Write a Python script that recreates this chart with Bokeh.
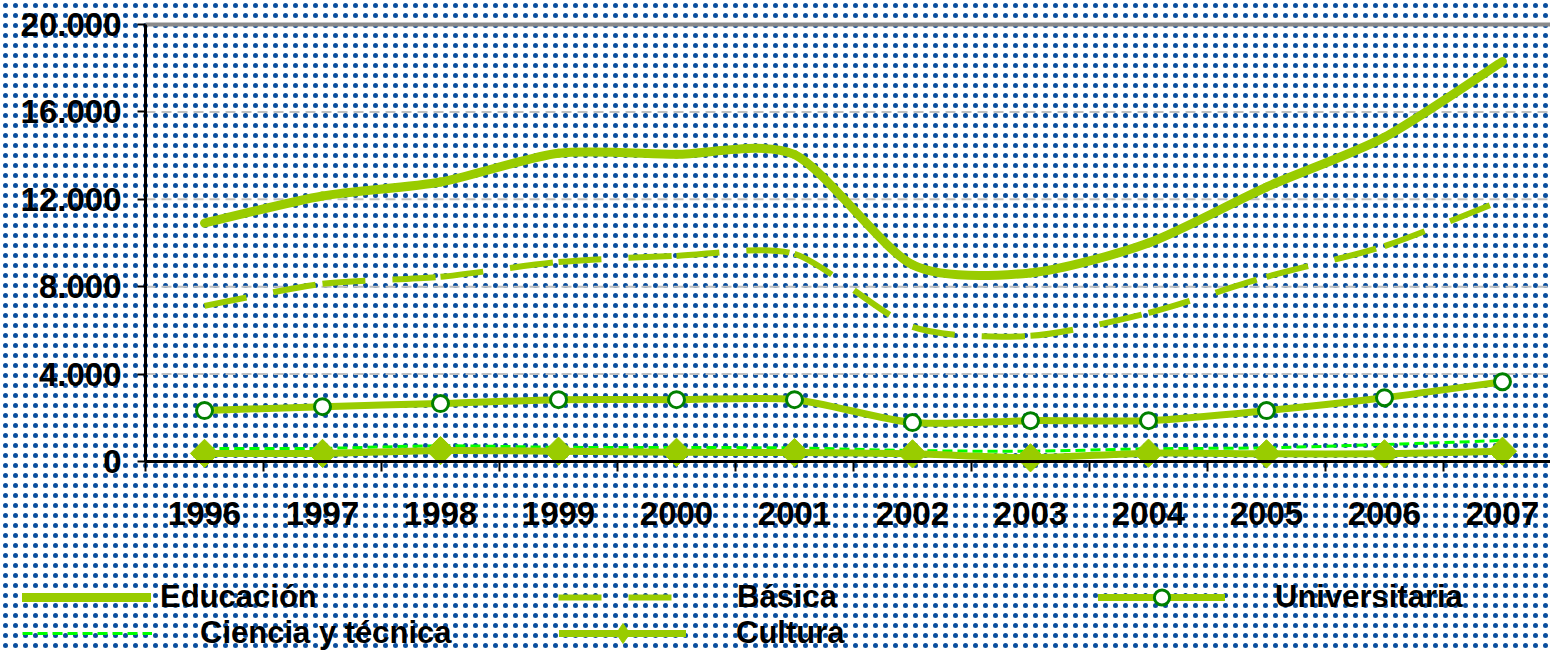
from bokeh.plotting import figure
from bokeh.models import (FixedTicker, Legend, LegendItem, BoxAnnotation,
                          Range1d, ColumnDataSource, LinearAxis)
from bokeh.embed import file_html
from bokeh.resources import INLINE

# ---------------- data ----------------
years = ["1996", "1997", "1998", "1999", "2000", "2001",
         "2002", "2003", "2004", "2005", "2006", "2007"]
educacion = [10910, 12150, 12790, 14110, 14060, 14050, 9000, 8630, 10000, 12560, 14840, 18310]
basica = [7120, 8130, 8450, 9130, 9410, 9500, 6160, 5750, 6800, 8450, 9860, 11960]
universitaria = [2330, 2510, 2650, 2830, 2830, 2830, 1780, 1870, 1870, 2330, 2920, 3650]
ciencia = [590, 600, 720, 650, 640, 620, 500, 470, 580, 625, 780, 960]
cultura = [370, 370, 500, 470, 420, 410, 350, 170, 380, 350, 350, 470]
y_ticks = [0, 4000, 8000, 12000, 16000, 20000]
y_tick_labels = ["0", "4.000", "8.000", "12.000", "16.000", "20.000"]

GREEN = "#99cc00"
FONT = "Liberation Sans"
DOT = "#0b4f9e"

xs = list(range(len(years)))

# view: whole canvas is the frame; axes are pinned inside it
X_START, X_END = -1.729, 11.407
Y_START, Y_END = -8696, 21098


def smooth_source(x, y, k=8.0):
    """Bezier segments (smoothed line) through the data points."""
    n = len(x)
    d = dict(x0=[], y0=[], x1=[], y1=[], cx0=[], cy0=[], cx1=[], cy1=[])
    for i in range(n - 1):
        a = max(i - 1, 0)
        b = min(i + 2, n - 1)
        d["x0"].append(x[i]); d["y0"].append(y[i])
        d["x1"].append(x[i + 1]); d["y1"].append(y[i + 1])
        d["cx0"].append(x[i] + (x[i + 1] - x[a]) / k)
        d["cy0"].append(y[i] + (y[i + 1] - y[a]) / k)
        d["cx1"].append(x[i + 1] - (x[b] - x[i]) / k)
        d["cy1"].append(y[i + 1] - (y[b] - y[i]) / k)
    return ColumnDataSource(d)


p = figure(width=1550, height=651, output_backend="svg", toolbar_location=None,
           x_range=Range1d(X_START, X_END), y_range=Range1d(Y_START, Y_END),
           x_axis_location=None, y_axis_location=None,
           min_border=0, background_fill_color="white",
           border_fill_color="white", outline_line_color=None)
p.xgrid.grid_line_color = None
p.ygrid.grid_line_color = None

# dotted background
bg = BoxAnnotation(left=-5000, right=5000, top=-5000, bottom=5000,
                   left_units="screen", right_units="screen",
                   top_units="screen", bottom_units="screen",
                   fill_alpha=0, line_color=None, hatch_pattern=".",
                   hatch_color=DOT, hatch_scale=10, hatch_weight=1.5,
                   level="image")
p.add_layout(bg)

# gridlines (dashed) and the solid top line
p.segment(x0=-0.5, x1=X_END, y0=y_ticks[1:-1], y1=y_ticks[1:-1],
          line_color="#c0c0c0", line_width=2, line_dash="10 6", level="underlay")
p.segment(x0=[-0.5], x1=[X_END], y0=[y_ticks[-1]], y1=[y_ticks[-1]],
          line_color="#8a8a8a", line_width=4, level="underlay")

# axes pinned inside the frame
xaxis = LinearAxis(fixed_location=0, bounds=(-0.5, X_END))
xaxis.ticker = FixedTicker(ticks=xs, minor_ticks=[i - 0.5 for i in range(13)])
xaxis.major_label_overrides = {i: y for i, y in enumerate(years)}
xaxis.major_tick_line_color = None
xaxis.major_tick_out = 0
xaxis.major_tick_in = 0
xaxis.minor_tick_line_color = "black"
xaxis.minor_tick_line_width = 2
xaxis.minor_tick_out = 10
xaxis.minor_tick_in = 0
xaxis.axis_line_width = 3
xaxis.axis_line_color = "black"
xaxis.major_label_standoff = 31

yaxis = LinearAxis(fixed_location=-0.5, bounds=(0, 20000))
yaxis.ticker = FixedTicker(ticks=y_ticks)
yaxis.major_label_overrides = {v: s for v, s in zip(y_ticks, y_tick_labels)}
yaxis.major_tick_out = 8
yaxis.major_tick_in = 0
yaxis.major_tick_line_width = 2
yaxis.major_tick_line_color = "black"
yaxis.minor_tick_line_color = None
yaxis.axis_line_width = 3
yaxis.axis_line_color = "black"
yaxis.major_label_standoff = 16

for ax in (xaxis, yaxis):
    ax.major_label_text_font = FONT
    ax.major_label_text_font_style = "bold"
    ax.major_label_text_font_size = "33px"
    ax.major_label_text_color = "black"
p.add_layout(xaxis, "below")
p.add_layout(yaxis, "left")

# series
bz = dict(x0="x0", y0="y0", x1="x1", y1="y1", cx0="cx0", cy0="cy0",
          cx1="cx1", cy1="cy1")
r_edu = p.bezier(source=smooth_source(xs, educacion), line_color=GREEN,
                 line_width=9, line_cap="round", **bz)
r_bas = p.bezier(source=smooth_source(xs, basica), line_color=GREEN,
                 line_width=6, line_dash="43 27", **bz)
r_uni = p.bezier(source=smooth_source(xs, universitaria), line_color=GREEN,
                 line_width=7, line_cap="round", **bz)
r_cie = p.bezier(source=smooth_source(xs, ciencia), line_color="#00ff00",
                 line_width=3, line_dash="10 5", **bz)
r_cul = p.bezier(source=smooth_source(xs, cultura), line_color=GREEN,
                 line_width=7, line_cap="round", **bz)
m_uni = p.scatter(xs, universitaria, marker="circle", size=16,
                  fill_color="white", line_color="#008000", line_width=3)
m_cul = p.scatter(xs, cultura, marker="square", size=20, angle=0.785398,
                  fill_color=GREEN, line_color=GREEN, line_width=1)
# legend-only marker for the Cultura entry (diamond shape, not drawn in plot)
nan = float("nan")
k_cul = p.scatter(x=[nan], y=[nan], marker="diamond", size=20,
                  fill_color=GREEN, line_color=GREEN, line_width=1)


def add_legend(label, renderers, vx, vy, gw, gh, standoff):
    lg = Legend(items=[LegendItem(label=label, renderers=renderers)],
                location=(vx, vy), glyph_width=gw, glyph_height=gh,
                label_height=gh, label_standoff=standoff, padding=0, margin=0,
                spacing=0, border_line_color=None, background_fill_alpha=0,
                label_text_font=FONT, label_text_font_style="bold",
                label_text_font_size="31px", label_text_color="black")
    p.add_layout(lg, "center")


add_legend("Educación", [r_edu], 22, 35, 129, 38, 9)
add_legend("Básica", [r_bas], 558, 35, 130, 38, 49)
add_legend("Universitaria", [r_uni, m_uni], 1098, 35, 127, 38, 50)
add_legend("Ciencia y técnica", [r_cie], 22, -1, 130, 38, 48)
add_legend("Cultura", [r_cul, k_cul], 559, -7, 127, 50, 50)

open("out.html", "w").write(file_html(p, INLINE))
